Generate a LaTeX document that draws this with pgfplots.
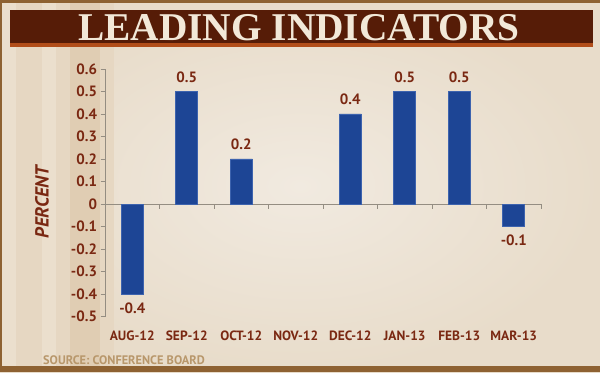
\documentclass[border=0pt]{standalone}
\usepackage{pgfplots}
\pgfplotsset{compat=1.18}
\usepackage{fontspec}
\setmainfont{PT Sans}
\newfontfamily\titlefont{Liberation Serif}
\definecolor{bgl}{HTML}{F1EAE0}
\definecolor{bgd}{HTML}{E8DCCA}
\definecolor{labred}{HTML}{7A2812}
\definecolor{axisgray}{HTML}{948D82}
\definecolor{barblue}{HTML}{1D4595}
\definecolor{baredge}{HTML}{3D63AE}
\definecolor{titlebrown}{HTML}{561C07}
\definecolor{titleorange}{HTML}{B24E1A}
\definecolor{titletext}{HTML}{F2E8D8}
\definecolor{srccol}{HTML}{B8976B}
\definecolor{border}{HTML}{8E6232}
\definecolor{st1}{HTML}{E6D7C2}
\definecolor{st2}{HTML}{E0CDB3}
\definecolor{st3}{HTML}{EBDFCD}
\tikzset{catlbl/.style={anchor=base, yshift=-23.5bp, font=\bfseries\fontsize{13.5}{13.5}\selectfont, text=labred, inner sep=0pt}}
\begin{document}
\begin{tikzpicture}[x=1bp,y=1bp]
\useasboundingbox (0,0) rectangle (600,372);
% background
\shade[inner color=bgl, outer color=bgd] (0,0) rectangle (600,372);
\fill[st3] (2,0) rectangle (16,369);
\fill[st1] (16,0) rectangle (42,369);
\fill[st3] (42,0) rectangle (56,369);
\fill[st1] (56,0) rectangle (70,369);
\fill[st2] (70,0) rectangle (100,369);
\fill[st1] (100,0) rectangle (114,369);
% borders
\fill[border] (0,369) rectangle (600,372);
\fill[border] (0,0) rectangle (600,6);
\fill[border] (0,0) rectangle (2,372);
% title bar
\fill[titleorange] (10,325) rectangle (593,329);
\fill[titlebrown] (10,329) rectangle (593,362);
\node[text=titletext, font=\titlefont\bfseries\fontsize{39.5}{39.5}\selectfont, anchor=base, inner sep=0pt] at (299,332) {LEADING INDICATORS};
% source
\node[text=srccol, font=\bfseries\fontsize{12.4}{12.4}\selectfont, anchor=base west, inner sep=0pt] at (43,7.5) {SOURCE: CONFERENCE BOARD};
\begin{axis}[
  at={(105bp,55.5bp)}, anchor=south west,
  scale only axis, width=436bp, height=247.5bp,
  xmin=-0.5, xmax=7.5, ymin=-0.5, ymax=0.6,
  axis y line=left, axis x line=middle,
  hide obscured x ticks=false, hide obscured y ticks=false,
  axis line style={-, draw=axisgray, line width=0.9bp},
  tick style={draw=axisgray, line width=0.9bp},
  tick align=outside, major tick length=4.5bp,
  xtick={0.5,1.5,2.5,3.5,4.5,5.5,6.5,7.5}, xticklabels={},
  ytick={-0.5,-0.4,-0.3,-0.2,-0.1,0,0.1,0.2,0.3,0.4,0.5,0.6},
  yticklabel style={font=\bfseries\fontsize{15}{15}\selectfont, text=labred,
    /pgf/number format/.cd, fixed, precision=1, assume math mode=true},
  ylabel={PERCENT},
  every axis y label/.style={at={(axis description cs:-0.1445,0.4626)}, anchor=center, rotate=90,
    font=\bfseries\itshape\fontsize{19}{19}\selectfont, text=labred},
  ybar, bar width=22bp, bar shift=0pt,
  clip=false,
  nodes near coords={\pgfmathprintnumber[fixed,precision=1,assume math mode=true]{\pgfplotspointmeta}},
  nodes near coords align=vertical,
  every node near coord/.append style={font=\bfseries\fontsize{15}{15}\selectfont, text=labred, inner xsep=0pt, inner ysep=8.5bp},
]
\addplot[fill=barblue, draw=baredge, line width=0.6bp] coordinates {(0,-0.4) (1,0.5) (2,0.2) (4,0.4) (5,0.5) (6,0.5) (7,-0.1)};
\node[catlbl] at (axis cs:0,-0.5) {AUG-12};
\node[catlbl] at (axis cs:1,-0.5) {SEP-12};
\node[catlbl] at (axis cs:2,-0.5) {OCT-12};
\node[catlbl] at (axis cs:3,-0.5) {NOV-12};
\node[catlbl] at (axis cs:4,-0.5) {DEC-12};
\node[catlbl] at (axis cs:5,-0.5) {JAN-13};
\node[catlbl] at (axis cs:6,-0.5) {FEB-13};
\node[catlbl] at (axis cs:7,-0.5) {MAR-13};
\end{axis}
\end{tikzpicture}
\end{document}
